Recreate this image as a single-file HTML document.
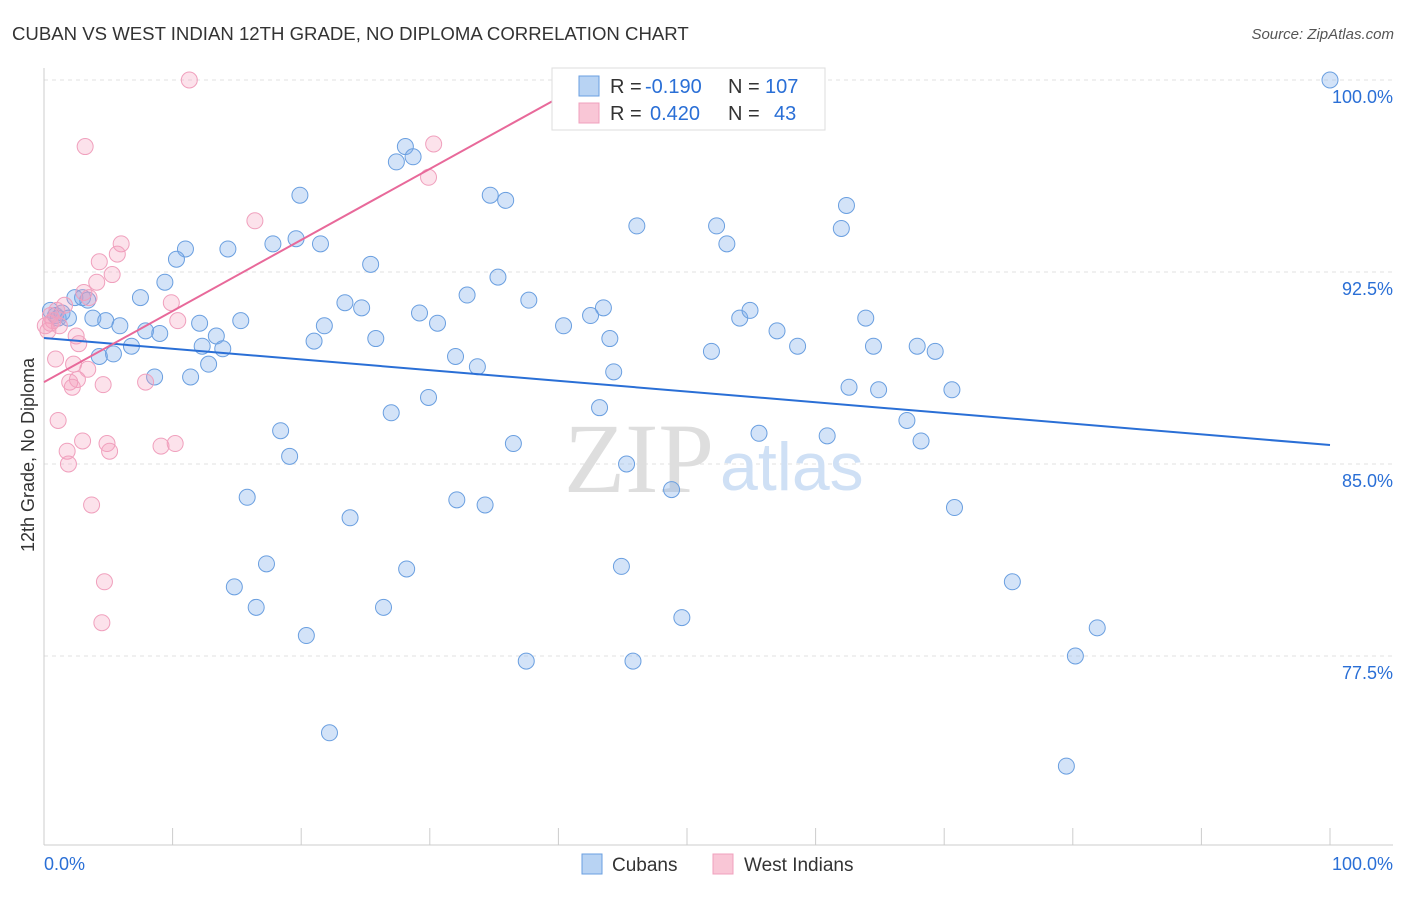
<!DOCTYPE html>
<html><head><meta charset="utf-8"><style>
body{margin:0;background:#fff;font-family:"Liberation Sans",sans-serif;}
svg text{font-family:"Liberation Sans",sans-serif;}
</style></head><body>
<svg id="chart" width="1406" height="892">
<text x="12" y="40" font-size="18.6" fill="#333">CUBAN VS WEST INDIAN 12TH GRADE, NO DIPLOMA CORRELATION CHART</text>
<text x="1394" y="39" font-size="15" fill="#555" text-anchor="end" font-style="italic">Source: ZipAtlas.com</text>
<text x="34" y="455" font-size="18" fill="#333" text-anchor="middle" transform="rotate(-90 34 455)">12th Grade, No Diploma</text>
<g id="grid"></g>
<g>
<text x="714" y="492" font-size="100" fill="#dedede" text-anchor="end" style="font-family:'Liberation Serif',serif">ZIP</text>
<text x="720" y="490" font-size="68" fill="#cfe0f5">atlas</text>
</g>
<g id="pts"></g>
<g id="lines"></g>
<g>
<rect x="552" y="68" width="273" height="62" fill="#fff" stroke="#ddd"/>
<rect x="579" y="76" width="20" height="20" fill="#b8d3f3" stroke="#6a9fe0"/>
<rect x="579" y="103" width="20" height="20" fill="#f9c6d6" stroke="#f0a0bd"/>
<text x="610" y="93" font-size="20" fill="#333">R =</text>
<text x="645" y="93" font-size="20" fill="#2a6fd6">-0.190</text>
<text x="728" y="93" font-size="20" fill="#333">N =</text>
<text x="765" y="93" font-size="20" fill="#2a6fd6">107</text>
<text x="610" y="120" font-size="20" fill="#333">R =</text>
<text x="650" y="120" font-size="20" fill="#2a6fd6">0.420</text>
<text x="728" y="120" font-size="20" fill="#333">N =</text>
<text x="774" y="120" font-size="20" fill="#2a6fd6">43</text>
</g>
<g>
<rect x="582" y="854" width="20" height="20" fill="#b8d3f3" stroke="#6a9fe0"/>
<text x="612" y="871" font-size="19" fill="#333">Cubans</text>
<rect x="713" y="854" width="20" height="20" fill="#f9c6d6" stroke="#f0a0bd"/>
<text x="744" y="871" font-size="19" fill="#333">West Indians</text>
</g>
</svg>
<script>
const cubanX=[100,28.1,28.7,27.4,34.7,35.9,19.9,62.4,46.1,52.3,62.0,53.1,17.8,19.6,21.5,14.3,11.0,10.3,25.4,35.3,9.4,32.9,7.5,37.7,23.4,24.7,43.5,42.5,29.2,30.6,40.4,54.1,54.9,63.9,3.8,4.8,5.9,15.3,12.1,21.8,7.9,9.0,13.4,21.0,25.8,44.0,57.0,58.6,64.5,67.9,69.3,51.9,12.3,13.9,6.8,5.4,4.3,32.0,33.7,12.8,44.3,8.6,11.4,62.6,64.9,70.6,29.9,43.2,27.0,67.1,68.2,18.4,55.6,60.9,36.5,19.1,45.3,48.8,15.8,32.1,34.3,70.8,23.8,17.3,28.2,44.9,75.3,14.8,16.5,26.4,49.6,81.9,20.4,37.5,45.8,80.2,22.2,79.5,0.5,0.9,1.1,1.4,1.9,2.4,3.0,3.4];
const cubanY=[100,97.4,97.0,96.8,95.5,95.3,95.5,95.1,94.3,94.3,94.2,93.6,93.6,93.8,93.6,93.4,93.4,93.0,92.8,92.3,92.1,91.6,91.5,91.4,91.3,91.1,91.1,90.8,90.9,90.5,90.4,90.7,91.0,90.7,90.7,90.6,90.4,90.6,90.5,90.4,90.2,90.1,90.0,89.8,89.9,89.9,90.2,89.6,89.6,89.6,89.4,89.4,89.6,89.5,89.6,89.3,89.2,89.2,88.8,88.9,88.6,88.4,88.4,88.0,87.9,87.9,87.6,87.2,87.0,86.7,85.9,86.3,86.2,86.1,85.8,85.3,85.0,84.0,83.7,83.6,83.4,83.3,82.9,81.1,80.9,81.0,80.4,80.2,79.4,79.4,79.0,78.6,78.3,77.3,77.3,77.5,74.5,73.2,91.0,90.8,90.7,90.9,90.7,91.5,91.5,91.4];
const wiX=[11.3,3.2,30.3,29.9,16.4,6.0,5.7,4.3,5.3,4.1,3.1,3.5,1.6,9.9,1.0,0.5,0.7,1.2,0.3,10.4,2.5,2.7,0.9,2.3,3.4,2.0,4.6,7.9,2.6,2.2,1.1,3.0,4.9,5.1,9.1,10.2,1.8,1.9,3.7,4.7,4.5,0.5,0.1];
const wiY=[100,97.4,97.5,96.2,94.5,93.6,93.2,92.9,92.4,92.1,91.7,91.5,91.2,91.3,91.0,90.8,90.6,90.4,90.2,90.6,90.0,89.7,89.1,88.9,88.7,88.2,88.1,88.2,88.3,88.0,86.7,85.9,85.8,85.5,85.7,85.8,85.5,85.0,83.4,80.4,78.8,90.5,90.4];
const cubanTrend=[[0,89.92],[100,85.74]];
const wiTrend=[[0,88.2],[39.7,99.22]];
const yTicks=[100,92.5,85,77.5];
const yTickLabels=["100.0%","92.5%","85.0%","77.5%"];
const xTickLabels=["0.0%","100.0%"];
const NS="http://www.w3.org/2000/svg";
const sx=v=>44+v*12.86, sy=v=>80+(100-v)*25.6;
function mk(tag,at,parent){const e=document.createElementNS(NS,tag);for(const k in at)e.setAttribute(k,at[k]);parent.appendChild(e);return e;}
const grid=document.getElementById('grid');
yTicks.forEach((t,i)=>{
 const l=mk('line',{x1:44,x2:1393,y1:sy(t),y2:sy(t),stroke:'#e2e2e2','stroke-dasharray':'4,4'},grid);
 
 
 const tx=mk('text',{x:1393,y:sy(t)+23,'font-size':18,fill:'#2a6fd6','text-anchor':'end'},grid);
 tx.textContent=yTickLabels[i];
 
 
});
const ax=mk('line',{x1:44,x2:44,y1:68,y2:845,stroke:'#ccc'},grid);


const bx=mk('line',{x1:44,x2:1393,y1:845,y2:845,stroke:'#ccc'},grid);


for(let k=0;k<=10;k++){
 const t=mk('line',{x1:sx(k*10),x2:sx(k*10),y1:828,y2:845,stroke:'#ccc'},grid);
 
 
}
[[0,'start',44],[1,'end',1393]].forEach(([i,a,x])=>{
 const t=mk('text',{x:x,y:870,'font-size':18,fill:'#2a6fd6','text-anchor':a},grid);
 t.textContent=xTickLabels[i];
 
 
});
const pts=document.getElementById('pts');
cubanX.forEach((x,i)=>{
 const c=mk('circle',{cx:sx(x),cy:sy(cubanY[i]),r:8,fill:'rgba(130,175,235,0.35)',stroke:'#6a9fe0','stroke-width':1},pts);
 
 
});
wiX.forEach((x,i)=>{
 const c=mk('circle',{cx:sx(x),cy:sy(wiY[i]),r:8,fill:'rgba(245,160,190,0.3)',stroke:'#f0a0bd','stroke-width':1},pts);
 
 
});
const lines=document.getElementById('lines');
const l1=mk('line',{x1:sx(cubanTrend[0][0]),y1:sy(cubanTrend[0][1]),x2:sx(cubanTrend[1][0]),y2:sy(cubanTrend[1][1]),stroke:'#2a6fd6','stroke-width':2},lines);


const l2=mk('line',{x1:sx(wiTrend[0][0]),y1:sy(wiTrend[0][1]),x2:sx(wiTrend[1][0]),y2:sy(wiTrend[1][1]),stroke:'#e8699a','stroke-width':2},lines);


</script>
</body></html>
